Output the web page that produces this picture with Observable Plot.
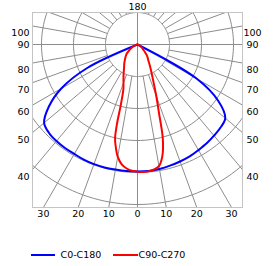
<!DOCTYPE html>
<html><head><meta charset="utf-8">
<script src="https://cdn.jsdelivr.net/npm/d3@7"></script>
<script src="https://cdn.jsdelivr.net/npm/@observablehq/plot@0.6"></script>
<style>
body{margin:0;background:#fff;}
#wrap{position:relative;width:275px;height:266px;font-family:"DejaVu Sans",sans-serif;}
#wrap svg{display:block;}
.lg-line{position:absolute;height:2px;top:254px;}
.lg-text{position:absolute;top:249px;line-height:12px;font-size:9.5px;color:#000;white-space:nowrap;}
</style></head><body><div id="wrap"></div>
<script>
// ---- data ----
const seriesNames = ["C0-C180", "C90-C270"];
const seriesColors = ["#0000ff", "#ff0000"];
const ringValues = [100, 200, 300, 400, 500];
const spokeStep = 10;
const sideLabels = [100, 90, 80, 70, 60, 50, 40];
const bottomLabels = [-30, -20, -10, 0, 10, 20, 30];
const topLabel = "180";

// blue: C0 (right half) and C180 (left half), gamma in degrees from nadir
const gammaC0 = [0, 5, 10, 15, 20, 25, 30, 35, 40, 45, 50, 55, 60, 65, 70, 75, 80, 85, 90];
const valueC0 = [397, 397, 395, 392, 389, 386, 381, 377, 372, 367, 358, 309, 213, 0, 0, 0, 0, 0, 0];
const gammaC180 = [0, 5, 10, 15, 20, 25, 30, 35, 40, 45, 50, 55, 60, 65, 70, 75, 80, 85, 90];
const valueC180 = [397, 397, 397, 398, 398, 397, 395, 395, 394, 391, 381, 338, 275, 172, 0, 0, 0, 0, 0];
// red: C90 (right half) and C270 (left half)
const gammaC90 = [0, 2.5, 5, 7.5, 10, 12.5, 15, 17.5, 20, 25, 30, 35, 40, 45, 50, 55, 60, 70, 80, 90];
const valueC90 = [398, 399, 398, 394, 386, 358, 306, 222, 172, 109, 78, 58, 47, 32, 21, 16, 9, 3, 1, 0];
const gammaC270 = [0, 2.5, 5, 7.5, 10, 12.5, 13.5, 14.5, 15.5, 17.5, 20, 25, 30, 35, 40, 45, 50, 55, 60, 70, 80, 90];
const valueC270 = [397, 395, 389, 378, 356, 319, 300, 256, 194, 147, 128, 103, 84, 72, 61, 52, 43, 31, 22, 9, 3, 0];

// ---- geometry helpers ----
const rad = d => d * Math.PI / 180;
const XMAX = 328.125, YTOP = 100, YBOT = -509.375;
function half(gammas, values, side) {
  return gammas.map((g, i) => ({x: side * values[i] * Math.sin(rad(g)), y: -values[i] * Math.cos(rad(g))}));
}
function closed(gL, vL, gR, vR, name) {
  const left = half(gL, vL, -1).reverse();
  const right = half(gR, vR, 1);
  const pts = left.concat(right);
  // drop consecutive duplicate points (repeated zeros at the centre)
  const out = [];
  for (const p of pts) {
    const q = out[out.length - 1];
    if (q && Math.abs(q.x - p.x) < 1e-9 && Math.abs(q.y - p.y) < 1e-9) continue;
    out.push({...p, s: name});
  }
  return out;
}
const blue = closed(gammaC180, valueC180, gammaC0, valueC0, seriesNames[0]);
const red = closed(gammaC270, valueC270, gammaC90, valueC90, seriesNames[1]);

const ringPts = [];
for (const r of ringValues) for (let a = 0; a <= 360; a += 2) ringPts.push({r, x: r * Math.sin(rad(a)), y: r * Math.cos(rad(a))});
const spokes = [];
for (let a = spokeStep; a < 360; a += spokeStep) if (a % 90) spokes.push({
  x1: ringValues[0] * Math.sin(rad(a)), y1: -ringValues[0] * Math.cos(rad(a)),
  x2: 2000 * Math.sin(rad(a)), y2: -2000 * Math.cos(rad(a))});

const sideY = g => -XMAX * Math.cos(rad(g)) / Math.sin(rad(g));
const sideData = sideLabels.map(g => ({g, y: sideY(g), dy: g === 90 ? 0 : 7}));
const bottomData = bottomLabels.map(g => ({t: String(Math.abs(g)), x: -YBOT * Math.tan(rad(g)), y: YBOT}));

const gridColor = "#8c8c8c";
const plot = Plot.plot({
  width: 275, height: 232,
  marginTop: 12, marginBottom: 25, marginLeft: 32, marginRight: 33,
  x: {domain: [-XMAX, XMAX], axis: null},
  y: {domain: [YBOT, YTOP], axis: null},
  style: {fontFamily: "DejaVu Sans", fontSize: "9.5px", background: "white", color: "#000"},
  marks: [
    Plot.line(ringPts, {x: "x", y: "y", z: "r", stroke: gridColor, strokeWidth: 1, clip: true}),
    Plot.link(spokes, {x1: "x1", y1: "y1", x2: "x2", y2: "y2", stroke: gridColor, strokeWidth: 1, clip: true}),
    Plot.ruleX([0], {stroke: gridColor}),
    Plot.ruleY([0], {stroke: gridColor}),
    Plot.frame({stroke: "#c4c4c4"}),
    Plot.line(blue, {x: "x", y: "y", stroke: seriesColors[0], strokeWidth: 2, curve: "catmull-rom"}),
    Plot.line(red, {x: "x", y: "y", stroke: seriesColors[1], strokeWidth: 2, curve: "catmull-rom"}),
    ...sideData.map(d => Plot.text([d], {x: -XMAX, y: "y", text: "g", textAnchor: "end", dx: -3, dy: d.dy, fill: "#000"})),
    ...sideData.map(d => Plot.text([d], {x: XMAX, y: "y", text: "g", textAnchor: "middle", dx: 10, dy: d.dy, fill: "#000"})),
    Plot.text(bottomData, {x: "x", y: "y", text: "t", dy: 6.5, fill: "#000"}),
    Plot.text([topLabel], {x: 0, y: YTOP, text: d => d, dy: -6, fill: "#000"})
  ]
});
const wrap = document.getElementById("wrap");
wrap.appendChild(plot);

// legend (below the svg)
const lg = [
  {name: seriesNames[0], color: seriesColors[0], lx: 30.5, lw: 24.5, tx: 60.5},
  {name: seriesNames[1], color: seriesColors[1], lx: 113, lw: 25, tx: 138.5}
];
for (const it of lg) {
  const l = document.createElement("div");
  l.className = "lg-line"; l.style.left = it.lx + "px"; l.style.width = it.lw + "px"; l.style.background = it.color;
  wrap.appendChild(l);
  const t = document.createElement("div");
  t.className = "lg-text"; t.style.left = it.tx + "px"; t.textContent = it.name;
  wrap.appendChild(t);
}
</script></body></html>
